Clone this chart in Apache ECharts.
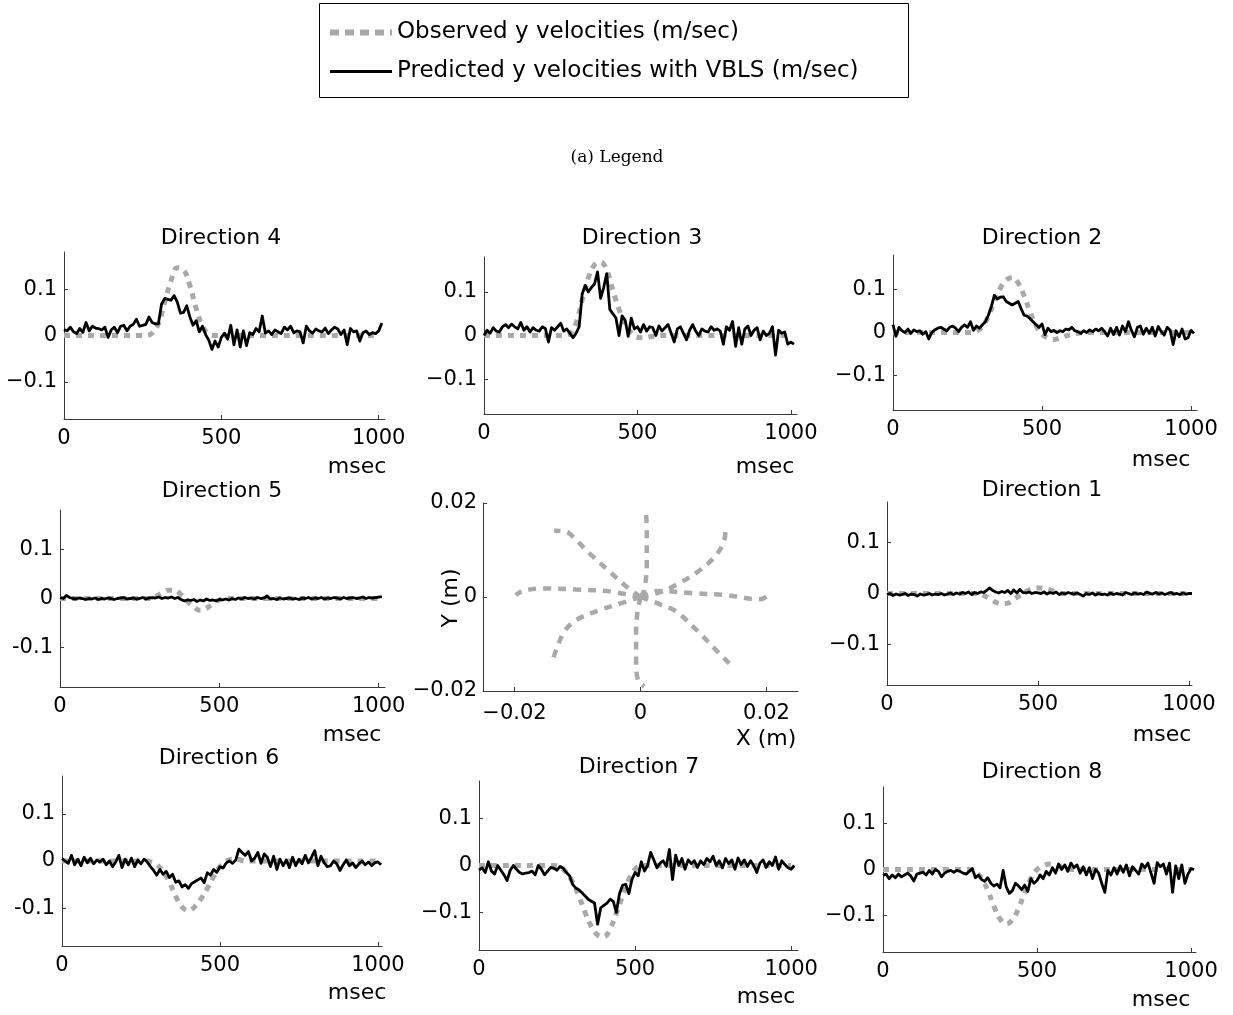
<!DOCTYPE html>
<html>
<head>
<meta charset="utf-8">
<script src="https://cdn.jsdelivr.net/npm/echarts@6/dist/echarts.min.js"></script>
<style>
  html, body { margin: 0; padding: 0; background: #fff; }
  #chart { width: 1233px; height: 1015px; }
</style>
</head>
<body>
<div id="chart"></div>
<script>
// ---------- labels ----------
const legendNames = ['Observed y velocities (m/sec)', 'Predicted y velocities with VBLS (m/sec)'];
const directionTitles = {
  dir1: 'Direction 1', dir2: 'Direction 2', dir3: 'Direction 3', dir4: 'Direction 4',
  dir5: 'Direction 5', dir6: 'Direction 6', dir7: 'Direction 7', dir8: 'Direction 8'
};
const timeTicks = [0, 500, 1000];
const velocityTicks = [-0.1, 0, 0.1];
const positionTicks = [-0.02, 0, 0.02];

// ---------- observed y velocity (m/sec), sampled every 20 ms from 0 to 1000 ----------
const obsDir4 = [0,0,0,0,0,0,0,0,0,0, 0,0,0,0,0.005,0.025,0.072,0.118,0.146,0.142,
  0.108,0.058,0.020,0.003,0,0,0,0,0,0, 0,0,0,0,0,0,0,0,0,0, 0,0,0,0,0,0,0,0,0,0, 0];
const obsDir3 = [0,0,0,0,0,0,0,0,0,0, 0,0,0,0,0.004,0.028,0.082,0.132,0.162,0.168,
  0.150,0.104,0.060,0.026,0.006,-0.004,-0.005,-0.003,-0.001,0, 0,0,0,0,0,0,0,0,0,0, 0,0,0,0,0,0,0,0,0,0, 0];
const obsDir2 = [0,0,0,0,0,0,0,0,0,0, 0,0,0,0,0.003,0.014,0.038,0.072,0.103,0.122,
  0.128,0.115,0.085,0.048,0.016,-0.004,-0.013,-0.016,-0.013,-0.008, -0.004,-0.002,0,0,0,0,0,0,0,0, 0,0,0,0,0,0,0,0,0,0, 0];
const obsDir5 = [0,0,0,0,0,0,0,0,0,0, 0,0,0,0,0,0.004,0.011,0.017,0.017,0.008,
  -0.006,-0.018,-0.024,-0.020,-0.010,-0.003,0,0,0,0, 0,0,0,0,0,0,0,0,0,0, 0,0,0,0,0,0,0,0,0,0, 0];
const obsDir1 = [0,0,0,0,0,0,0,0,0,0, 0,0,0,0,0,0,-0.004,-0.010,-0.017,-0.020,
  -0.019,-0.012,-0.004,0.004,0.009,0.011,0.010,0.007,0.003,0, 0,0,0,0,0,0,0,0,0,0, 0,0,0,0,0,0,0,0,0,0, 0];
const obsDir6 = [0,0,0,0,0,0,0,0,0,0, 0,0,0,0,-0.002,-0.008,-0.022,-0.045,-0.075,-0.097,
  -0.105,-0.097,-0.080,-0.058,-0.033,-0.012,0,0.004,0.003,0, 0,0,0,0,0,0,0,0,0,0, 0,0,0,0,0,0,0,0,0,0, 0];
const obsDir7 = [0,0,0,0,0,0,0,0,0,0, 0,0,0,-0.003,-0.015,-0.035,-0.065,-0.100,-0.130,-0.148,
  -0.152,-0.135,-0.102,-0.065,-0.030,-0.008,0,0,0,0, 0,0,0,0,0,0,0,0,0,0, 0,0,0,0,0,0,0,0,0,0, 0];
const obsDir8 = [0,0,0,0,0,0,0,0,0,0, 0,0,0,0,0,-0.005,-0.020,-0.045,-0.080,-0.108,
  -0.119,-0.110,-0.085,-0.050,-0.020,0,0.008,0.012,0.010,0.005, 0.002,0,0,0,0,0,0,0,0,0, 0,0,0,0,0,0,0,0,0,0, 0];

// ---------- predicted y velocity with VBLS (m/sec), sampled every 10 ms from 0 to 1010 ----------
const predDir4 = [
  0.013, 0.010, 0.018, 0.008, 0.004, 0.015, 0.007, 0.028, 0.010, 0.020,
  0.016, 0.015, 0.012, 0.018, -0.004, 0.012, 0.018, 0.006, 0.020, 0.022,
  0.010, 0.020, 0.024, 0.035, 0.020, 0.022, 0.024, 0.040, 0.028, 0.025,
  0.025, 0.068, 0.080, 0.078, 0.076, 0.086, 0.072, 0.048, 0.050, 0.064,
  0.040, 0.022, 0.032, 0.008, 0.020, 0.002, -0.010, -0.030, -0.012, -0.025,
  -0.004, 0.005, -0.008, 0.022, -0.020, 0.012, -0.025, 0.010, -0.022, 0.006,
  0.002, 0.015, 0.008, 0.042, 0.005, 0.010, 0.002, 0.012, 0.008, 0.004,
  0.018, 0.012, 0.020, 0.006, 0.010, 0.008, -0.016, 0.020, 0.010, 0.005,
  0.014, 0.010, 0.008, 0.016, 0.004, 0.012, 0.018, 0.014, 0.002, 0.012,
  -0.020, 0.015, 0.008, 0.010, -0.012, 0.006, 0.010, 0.002, 0.006, 0.004,
  0.010, 0.027];
const predDir3 = [
  0.000, 0.012, 0.005, 0.018, 0.010, 0.008, 0.020, 0.025, 0.018, 0.026,
  0.020, 0.015, 0.030, 0.012, 0.020, 0.008, 0.018, 0.012, 0.010, 0.020,
  0.016, -0.015, 0.018, 0.012, 0.020, 0.028, 0.010, 0.015, 0.005, -0.005,
  0.005, 0.020, 0.095, 0.115, 0.100, 0.110, 0.118, 0.146, 0.085, 0.110,
  0.142, 0.060, 0.050, 0.040, 0.000, 0.045, 0.035, -0.002, 0.040, 0.015,
  0.020, 0.008, 0.025, 0.010, 0.020, 0.018, 0.000, 0.022, 0.010, 0.018,
  0.025, 0.005, -0.015, 0.015, 0.020, 0.005, -0.010, 0.012, 0.025, 0.010,
  0.000, 0.015, 0.010, 0.008, 0.020, 0.012, 0.015, 0.010, -0.020, 0.020,
  0.012, 0.032, -0.025, 0.018, -0.020, 0.015, 0.022, 0.000, 0.012, 0.018,
  -0.010, 0.010, 0.000, 0.005, 0.020, -0.045, 0.012, 0.005, 0.008, -0.020,
  -0.015, -0.020];
const predDir2 = [
  0.018, -0.009, 0.012, 0.004, 0.000, 0.008, -0.002, 0.006, 0.002, 0.004,
  -0.004, 0.002, -0.015, 0.000, 0.006, 0.010, 0.012, 0.008, 0.004, 0.012,
  0.015, 0.010, 0.002, 0.012, 0.018, 0.012, 0.025, 0.005, 0.015, 0.010,
  0.018, 0.025, 0.040, 0.060, 0.086, 0.078, 0.082, 0.083, 0.072, 0.068,
  0.064, 0.068, 0.072, 0.055, 0.040, 0.038, 0.032, 0.025, 0.018, 0.012,
  0.020, -0.005, 0.010, 0.002, 0.005, 0.000, 0.004, 0.002, 0.008, 0.006,
  0.012, 0.004, 0.002, -0.002, 0.004, 0.000, 0.006, 0.002, 0.008, 0.004,
  0.010, 0.002, -0.008, 0.010, -0.005, 0.012, -0.006, 0.015, 0.002, 0.025,
  0.005, -0.010, 0.012, 0.015, -0.004, 0.010, -0.002, 0.012, -0.008, 0.014,
  0.002, -0.006, 0.012, 0.005, -0.028, 0.004, -0.010, 0.008, -0.015, -0.012,
  0.005, -0.002];
const predDir5 = [
  0.002, 0.000, 0.006, 0.002, 0.000, -0.001, 0.001, 0.000, -0.002, 0.000,
  -0.001, 0.001, -0.002, 0.000, -0.001, 0.001, 0.000, -0.002, 0.000, 0.001,
  0.002, -0.001, 0.000, 0.001, -0.001, 0.000, 0.002, -0.001, 0.001, 0.002,
  0.001, 0.003, 0.000, 0.002, 0.001, 0.003, 0.000, 0.002, -0.002, -0.005,
  -0.003, -0.004, -0.002, -0.006, -0.003, -0.005, -0.001, -0.004, -0.003, -0.005,
  -0.002, -0.003, -0.001, -0.003, 0.000, -0.002, 0.001, -0.001, 0.002, 0.000,
  0.001, -0.001, 0.002, 0.000, 0.001, 0.005, -0.001, 0.000, -0.002, 0.001,
  -0.001, 0.000, 0.001, -0.001, 0.000, -0.002, 0.001, 0.000, 0.002, -0.001,
  0.001, 0.000, 0.002, -0.001, 0.001, 0.000, 0.002, 0.001, -0.001, 0.002,
  0.000, 0.001, 0.002, 0.000, 0.001, 0.003, 0.000, 0.002, 0.001, 0.002,
  0.003, 0.004];
const predDir1 = [
  -0.002, 0.000, -0.004, -0.001, -0.003, -0.002, 0.000, -0.004, -0.001, -0.002,
  -0.005, -0.001, -0.003, -0.002, 0.000, -0.003, -0.001, -0.002, 0.000, -0.003,
  -0.001, 0.001, -0.002, 0.001, -0.001, 0.002, 0.000, 0.003, -0.002, 0.002,
  0.000, 0.003, 0.002, 0.006, 0.011, 0.006, 0.003, 0.001, 0.004, 0.002,
  0.006, 0.000, 0.007, 0.001, 0.008, 0.002, 0.001, 0.003, 0.000, 0.002,
  0.001, 0.000, 0.003, -0.001, 0.002, 0.000, 0.003, -0.002, 0.001, -0.001,
  0.002, 0.000, -0.001, 0.001, -0.002, -0.005, 0.000, -0.002, 0.001, -0.003,
  0.000, -0.002, -0.001, -0.003, 0.001, -0.002, 0.000, -0.001, -0.003, 0.002,
  0.000, -0.002, 0.001, -0.001, 0.000, -0.002, 0.003, 0.000, -0.001, 0.002,
  -0.001, 0.001, -0.002, 0.000, 0.002, -0.001, 0.000, -0.002, 0.001, -0.001,
  0.000, 0.000];
const predDir6 = [
  0.005, 0.000, -0.005, 0.012, -0.008, 0.004, -0.010, 0.008, -0.004, 0.006,
  -0.006, 0.002, -0.002, 0.004, -0.008, 0.000, -0.012, -0.002, 0.012, -0.014,
  0.004, -0.008, 0.006, -0.012, 0.002, -0.006, 0.004, -0.002, -0.012, -0.020,
  -0.030, -0.018, -0.028, -0.022, -0.035, -0.028, -0.045, -0.042, -0.055, -0.050,
  -0.058, -0.048, -0.044, -0.040, -0.036, -0.046, -0.025, -0.030, -0.018, -0.024,
  -0.012, -0.015, -0.004, 0.000, -0.005, 0.002, 0.025, 0.018, 0.012, 0.020,
  0.000, 0.006, 0.018, -0.005, 0.015, 0.008, -0.012, 0.010, -0.018, 0.004,
  -0.010, 0.002, -0.014, 0.008, -0.010, 0.004, -0.006, 0.012, -0.004, 0.008,
  0.022, -0.010, 0.010, -0.004, -0.012, -0.010, 0.000, -0.006, -0.020, -0.008,
  0.002, -0.010, -0.004, -0.014, -0.006, 0.000, -0.008, -0.002, -0.010, -0.004,
  -0.002, -0.008];
const predDir7 = [
  -0.010, -0.005, -0.015, 0.008, -0.012, -0.018, 0.000, -0.010, -0.020, -0.032,
  -0.010, 0.000, -0.008, -0.015, -0.018, -0.016, -0.015, -0.012, -0.020, 0.000,
  -0.008, -0.020, -0.012, -0.004, -0.006, -0.010, -0.002, -0.006, -0.015, -0.022,
  -0.040, -0.048, -0.052, -0.058, -0.065, -0.072, -0.076, -0.080, -0.125, -0.090,
  -0.085, -0.080, -0.072, -0.076, -0.100, -0.060, -0.042, -0.040, -0.060, -0.030,
  -0.015, -0.022, 0.008, -0.012, 0.000, 0.028, 0.012, -0.005, 0.005, 0.010,
  -0.002, 0.034, -0.030, 0.022, 0.000, 0.015, -0.008, 0.012, 0.004, 0.010,
  -0.004, 0.010, 0.002, 0.015, 0.008, 0.020, 0.000, 0.010, -0.005, 0.015,
  0.004, 0.012, -0.008, 0.016, 0.002, 0.012, -0.002, 0.010, 0.000, -0.015,
  0.005, 0.012, -0.004, 0.008, 0.000, 0.018, -0.008, 0.010, 0.002, -0.005,
  -0.008, 0.000];
const predDir8 = [
  -0.013, -0.010, -0.020, -0.012, -0.018, -0.010, -0.016, -0.012, -0.008, -0.014,
  -0.025, -0.010, -0.008, -0.006, -0.012, -0.002, -0.010, 0.000, -0.004, -0.016,
  -0.008, -0.004, -0.002, -0.006, -0.002, -0.004, -0.008, -0.010, -0.004, 0.002,
  -0.018, -0.012, -0.022, -0.026, -0.018, -0.030, -0.036, -0.032, -0.040, -0.002,
  -0.038, -0.052, -0.046, -0.030, -0.036, -0.044, -0.034, -0.048, -0.020, -0.030,
  -0.024, -0.012, -0.020, -0.004, -0.012, 0.004, -0.008, 0.012, 0.000, 0.010,
  -0.004, 0.014, 0.004, 0.010, -0.008, 0.006, -0.012, 0.004, -0.020, 0.000,
  -0.008, -0.030, -0.050, -0.002, -0.012, 0.004, -0.010, 0.008, -0.006, 0.010,
  -0.014, 0.006, -0.002, -0.010, 0.012, 0.004, 0.014, -0.008, -0.030, 0.015,
  0.006, 0.012, -0.010, 0.014, -0.050, 0.008, -0.020, 0.010, -0.030, -0.010,
  0.002, 0.000];

// ---------- hand paths in the plane, [x (m), y (m)] ----------
const pathDir1 = [[0, 0], [0.0027, 0.0013], [0.0083, 0.0008], [0.0136, 0.0004], [0.0189, -0.0005], [0.0202, 0.0003]];
const pathDir2 = [[0, 0], [0.0030, 0.0010], [0.0057, 0.0026], [0.0094, 0.0057], [0.0120, 0.0089], [0.0133, 0.0121], [0.0135, 0.0146]];
const pathDir3 = [[0, 0], [0.0006, 0.0015], [0.0010, 0.0072], [0.0010, 0.0143], [0.0008, 0.0189]];
const pathDir4 = [[0, 0], [-0.0025, 0.0025], [-0.0049, 0.0054], [-0.0078, 0.0089], [-0.0102, 0.0121], [-0.0118, 0.0139], [-0.0137, 0.0141]];
const pathDir5 = [[0, 0], [-0.0050, 0.0012], [-0.0102, 0.0016], [-0.0155, 0.0018], [-0.0187, 0.0013], [-0.0198, 0.0004]];
const pathDir6 = [[0, 0], [-0.0035, -0.0015], [-0.0065, -0.0028], [-0.0102, -0.0049], [-0.0121, -0.0074], [-0.0134, -0.0113], [-0.0140, -0.0138]];
const pathDir7 = [[0, 0], [-0.0005, -0.0035], [-0.0007, -0.0070], [-0.0007, -0.0134], [-0.0004, -0.0177], [0.0006, -0.0190]];
const pathDir8 = [[0, 0], [0.0030, -0.0015], [0.0057, -0.0031], [0.0094, -0.0077], [0.0125, -0.0120], [0.0141, -0.0141]];

const observedByDir = { dir1: obsDir1, dir2: obsDir2, dir3: obsDir3, dir4: obsDir4, dir5: obsDir5, dir6: obsDir6, dir7: obsDir7, dir8: obsDir8 };
const predictedByDir = { dir1: predDir1, dir2: predDir2, dir3: predDir3, dir4: predDir4, dir5: predDir5, dir6: predDir6, dir7: predDir7, dir8: predDir8 };
const paths = [pathDir1, pathDir2, pathDir3, pathDir4, pathDir5, pathDir6, pathDir7, pathDir8];

// sample times (ms)
const obsTimes = [];
for (let t = 0; t <= 1000; t += 20) obsTimes.push(t);
const predTimes = [];
for (let t = 0; t <= 1010; t += 10) predTimes.push(t);

// ---------- page layout (pixels) ----------
const panelLayout = [
  { key: 'dir4', box: [64, 252, 321, 167], xMax: 1020, title: [221, 238], unit: [357, 467], minus: '\u2212' },
  { key: 'dir3', box: [484, 257, 313, 157], xMax: 1020, title: [642, 238], unit: [765, 467], minus: '\u2212' },
  { key: 'dir2', box: [893, 255, 304, 155], xMax: 1020, title: [1042, 238], unit: [1161, 460], minus: '\u2212' },
  { key: 'dir5', box: [60, 510, 325, 177], xMax: 1020, title: [222, 491], unit: [352, 735], minus: '-' },
  { key: 'dir1', box: [887, 502, 305, 183], xMax: 1010, title: [1042, 490], unit: [1162, 735], minus: '\u2212' },
  { key: 'dir6', box: [62, 776, 320, 170], xMax: 1013, title: [219, 758], unit: [357, 993], minus: '-' },
  { key: 'dir7', box: [479, 781, 319, 169], xMax: 1022, title: [639, 767], unit: [766, 997], minus: '\u2212' },
  { key: 'dir8', box: [883, 787, 313, 165], xMax: 1016, title: [1042, 772], unit: [1161, 1000], minus: '\u2212' }
];
const planeBox = [483, 503, 315, 188];

const FONT = 'DejaVu Sans';
const AXIS_COLOR = '#3a3a3a';
const GRAY = '#a9a9a9';
const OBS_LINE = { color: GRAY, width: 5, type: [6, 6], cap: 'butt' };
const PRED_LINE = { color: '#000', width: 2.8, join: 'round' };

function fmt(v, minus, digits) {
  if (Math.abs(v) < 1e-12) return '0';
  return (v < 0 ? minus : '') + Math.abs(v).toFixed(digits);
}

function valueAxis(gridIndex, min, max, ticks, formatter, isX, margin) {
  return {
    type: 'value', gridIndex, min, max,
    axisLine: { show: true, onZero: false, lineStyle: { color: AXIS_COLOR, width: 1 } },
    axisTick: { show: true, inside: true, length: 4, customValues: ticks, lineStyle: { color: AXIS_COLOR, width: 1 } },
    axisLabel: {
      show: true, customValues: ticks, formatter, margin: margin != null ? margin : (isX ? 9 : 7),
      color: '#000', fontSize: 21, fontFamily: FONT
    },
    splitLine: { show: false }, splitArea: { show: false }
  };
}

function label(x, y, text, size, extra) {
  return Object.assign({
    type: 'text', x, y, silent: true,
    style: { text, fontSize: size, fontFamily: FONT, fill: '#000', align: 'center', verticalAlign: 'middle' }
  }, extra || {});
}

const grids = [], xAxes = [], yAxes = [], series = [], graphics = [];

panelLayout.forEach((p, i) => {
  grids.push({ left: p.box[0], top: p.box[1], width: p.box[2], height: p.box[3], containLabel: false, outerBoundsMode: 'none' });
  xAxes.push(valueAxis(i, 0, p.xMax, timeTicks, v => String(v), true));
  yAxes.push(valueAxis(i, -0.18, 0.18, velocityTicks, v => fmt(v, p.minus, 1), false));
  series.push({
    type: 'line', name: legendNames[0], xAxisIndex: i, yAxisIndex: i,
    data: obsTimes.map((t, k) => [t, observedByDir[p.key][k]]),
    symbol: 'none', showSymbol: false, smooth: 0.4, silent: true, z: 2,
    itemStyle: { color: GRAY, opacity: 0 },
    lineStyle: OBS_LINE
  });
  series.push({
    type: 'line', name: legendNames[1], xAxisIndex: i, yAxisIndex: i,
    data: predTimes.map((t, k) => [t, predictedByDir[p.key][k]]),
    symbol: 'none', showSymbol: false, silent: true, z: 3,
    itemStyle: { color: '#000', opacity: 0 },
    lineStyle: PRED_LINE
  });
  graphics.push(label(p.title[0], p.title[1], directionTitles[p.key], 22));
  graphics.push(label(p.unit[0], p.unit[1], 'msec', 22));
});

// centre panel: hand positions
const pi = panelLayout.length;
grids.push({ left: planeBox[0], top: planeBox[1], width: planeBox[2], height: planeBox[3], containLabel: false, outerBoundsMode: 'none' });
xAxes.push(valueAxis(pi, -0.025, 0.025, positionTicks, v => fmt(v, '\u2212', 2), true, 12));
yAxes.push(valueAxis(pi, -0.02, 0.02, positionTicks, v => fmt(v, '\u2212', 2), false, 6));
paths.forEach((path, k) => {
  series.push({
    type: 'line', name: 'path ' + (k + 1), xAxisIndex: pi, yAxisIndex: pi,
    data: path, symbol: 'none', showSymbol: false, smooth: 0.35, silent: true, z: 2,
    lineStyle: { color: GRAY, width: 4.5, type: [8, 7], cap: 'butt' }
  });
});
graphics.push(label(766, 739, 'X (m)', 22));
graphics.push(label(451, 598, 'Y (m)', 22, { rotation: Math.PI / 2 }));

// legend frame and caption
graphics.push({
  type: 'rect', silent: true, z: 0,
  shape: { x: 319.5, y: 3.5, width: 589, height: 94 },
  style: { fill: 'none', stroke: '#000', lineWidth: 1 }
});
graphics.push({
  type: 'text', x: 617, y: 158, silent: true,
  style: { text: '(a) Legend', fontSize: 17, fontFamily: 'DejaVu Serif', fill: '#000', align: 'center', verticalAlign: 'middle' }
});

const chart = echarts.init(document.getElementById('chart'), null, { renderer: 'canvas' });
chart.setOption({
  animation: false,
  backgroundColor: '#fff',
  legend: {
    data: [
      { name: legendNames[0], itemStyle: { opacity: 0 }, lineStyle: { color: GRAY, width: 6, type: [9, 6], cap: 'butt' } },
      { name: legendNames[1], itemStyle: { opacity: 0 }, lineStyle: { color: '#000', width: 3, type: 'solid' } }
    ],
    orient: 'vertical', left: 322, top: 15,
    itemWidth: 62, itemHeight: 14, itemGap: 14, padding: 5, selectedMode: false,
    itemStyle: { opacity: 0 },
    textStyle: { fontSize: 23, fontFamily: FONT, color: '#000', lineHeight: 25 }
  },
  grid: grids,
  xAxis: xAxes,
  yAxis: yAxes,
  series,
  graphic: graphics
});
</script>
</body>
</html>
